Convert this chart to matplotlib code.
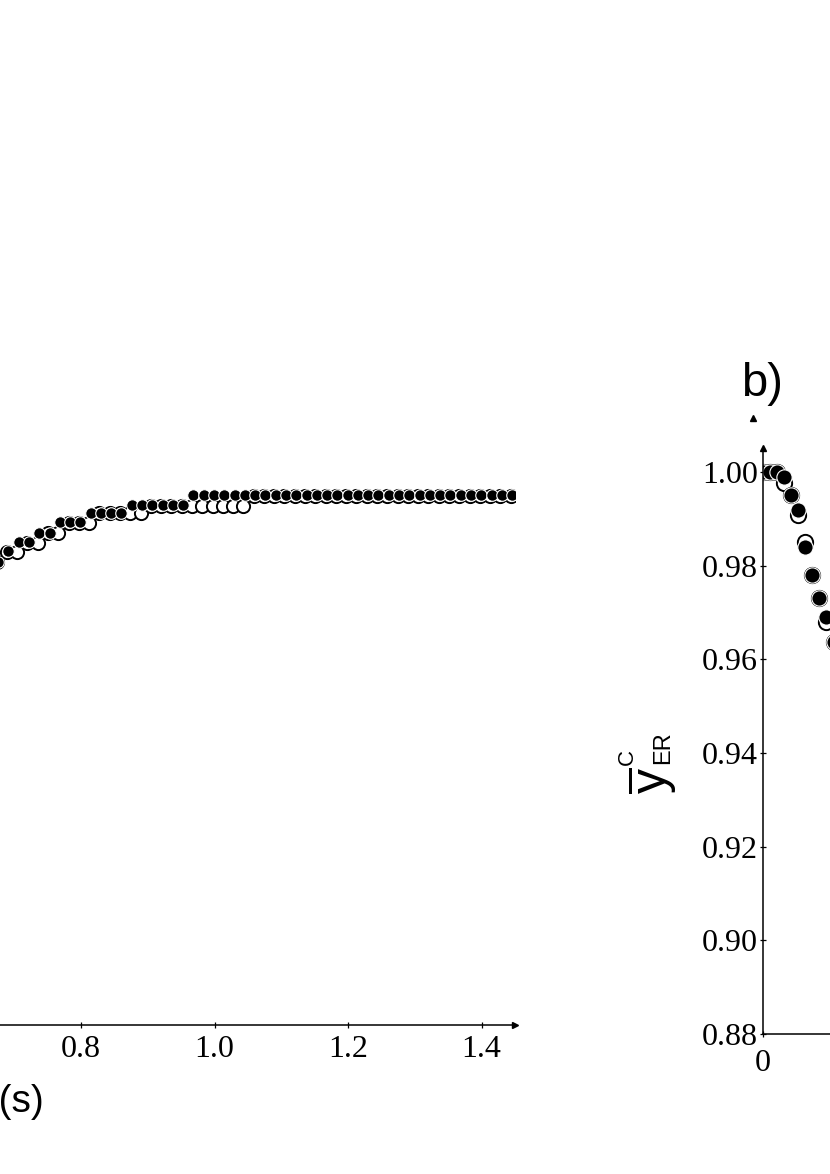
import matplotlib
matplotlib.use('Agg')
import matplotlib.pyplot as plt
from matplotlib.lines import Line2D
from matplotlib.transforms import offset_copy

plt.rcParams['font.family'] = ['Liberation Serif', 'DejaVu Serif']
plt.rcParams['mathtext.fontset'] = 'custom'
plt.rcParams['mathtext.rm'] = 'Liberation Sans'

# ---- panel a: time (s) vs response, two runs (filled / open) ----
t_a = [0.6736, 0.6890, 0.7044, 0.7198, 0.7352, 0.7506, 0.7660, 0.7814, 0.7968,
       0.8122, 0.8276, 0.8430, 0.8584, 0.8738, 0.8892, 0.9046, 0.9200, 0.9354,
       0.9508, 0.9662, 0.9816, 0.9970, 1.0124, 1.0278, 1.0432, 1.0586, 1.0740,
       1.0894, 1.1048, 1.1202, 1.1356, 1.1510, 1.1664, 1.1818, 1.1972, 1.2126,
       1.2280, 1.2434, 1.2588, 1.2742, 1.2896, 1.3050, 1.3204, 1.3358, 1.3512,
       1.3666, 1.3820, 1.3974, 1.4128, 1.4282, 1.4436]
filled_a = [0.9788, 0.9810, 0.9830, 0.9830, 0.9850, 0.9850, 0.9872, 0.9872, 0.9872,
            0.9893, 0.9893, 0.9893, 0.9893, 0.9909, 0.9909, 0.9909, 0.9909, 0.9909,
            0.9909, 0.9930, 0.9930, 0.9930, 0.9930, 0.9930, 0.9930, 0.9930, 0.9930,
            0.9930, 0.9930, 0.9930, 0.9930, 0.9930, 0.9930, 0.9930, 0.9930, 0.9930,
            0.9930, 0.9930, 0.9930, 0.9930, 0.9930, 0.9930, 0.9930, 0.9930, 0.9930,
            0.9930, 0.9930, 0.9930, 0.9930, 0.9930, 0.9930]
open_a = [0.9788, 0.9810, 0.9810, 0.9830, 0.9830, 0.9850, 0.9850, 0.9872, 0.9872,
          0.9872, 0.9893, 0.9893, 0.9893, 0.9893, 0.9893, 0.9909, 0.9909, 0.9909,
          0.9909, 0.9909, 0.9909, 0.9909, 0.9909, 0.9909, 0.9909, 0.9930, 0.9930,
          0.9930, 0.9930, 0.9930, 0.9930, 0.9930, 0.9930, 0.9930, 0.9930, 0.9930,
          0.9930, 0.9930, 0.9930, 0.9930, 0.9930, 0.9930, 0.9930, 0.9930, 0.9930,
          0.9930, 0.9930, 0.9930, 0.9930, 0.9930, 0.9930]
xticks_a = [0.0, 0.2, 0.4, 0.6, 0.8, 1.0, 1.2, 1.4]
xlabels_a = ['0', '0.2', '0.4', '0.6', '0.8', '1.0', '1.2', '1.4']

# ---- panel b ----
x_b = [0.00, 0.01, 0.02, 0.03, 0.04, 0.05, 0.06, 0.07, 0.08, 0.09, 0.10]
filled_b = [1.0000, 1.0000, 1.0000, 0.9990, 0.9951, 0.9919, 0.9840, 0.9780, 0.9731, 0.9690, 0.9637]
open_b = [1.0000, 1.0000, 1.0000, 0.9977, 0.9951, 0.9908, 0.9851, 0.9780, 0.9731, 0.9680, 0.9637]
yticks_b = [0.88, 0.90, 0.92, 0.94, 0.96, 0.98, 1.00]
ylabels_b = ['0.88', '0.90', '0.92', '0.94', '0.96', '0.98', '1.00']
xticks_b = [0.0, 0.5, 1.0]
xlabels_b = ['0', '0.5', '1.0']

W, H = 830, 1174
fig = plt.figure(figsize=(W / 100, H / 100), dpi=100)

ax_a = fig.add_axes([-453 / W, (H - 1025) / H, 967.9 / W, 577 / H])
ax_b = fig.add_axes([762.5 / W, (H - 1034) / H, 710 / W, 586 / H])
ax_a.set_xlim(0, 1.45)
ax_a.set_ylim(0.88, 1.0032)
ax_b.set_xlim(0, 1)
ax_b.set_ylim(0.88, 1.0051)

for ax in (ax_a, ax_b):
    ax.spines['top'].set_visible(False)
    ax.spines['right'].set_visible(False)
    ax.spines['left'].set_linewidth(1.1)
    ax.spines['bottom'].set_linewidth(1.1)
    ax.tick_params(direction='inout', length=5, width=0.9, labelsize=23)

# axis arrows
ax_a.plot(1, 0, '>', color='k', ms=5, transform=ax_a.transAxes, clip_on=False)
ax_b.plot(0, 1, '^', color='k', ms=5, transform=ax_b.transAxes, clip_on=False)

# panel a markers
ax_a.plot(t_a, open_a, 'o', ms=9.5, mfc='white', mec='black', mew=1.4, ls='none')
shift_a = offset_copy(ax_a.transData, fig=fig, x=1.5, y=0.5, units='dots')
ax_a.plot(t_a, filled_a, 'o', ms=8.3, mfc='black', mec='white', mew=0.8, ls='none',
          transform=shift_a)
ax_a.set_xticks(xticks_a)
ax_a.set_xticklabels(xlabels_a)
ax_a.tick_params(axis='x', pad=5)

# panel b markers
ax_b.plot(x_b, open_b, 'o', ms=11, mfc='white', mec='black', mew=1.4, ls='none')
ax_b.plot(x_b, filled_b, 'o', ms=11, mfc='black', mec='white', mew=0.8, ls='none')
ax_b.set_yticks(yticks_b)
ax_b.set_yticklabels(ylabels_b)
ax_b.set_xticks(xticks_b)
ax_b.set_xticklabels(xlabels_b)
ax_b.tick_params(axis='y', pad=1)
ax_b.tick_params(axis='x', pad=8)

# labels
fig.text(44 / W, 1 - 1102 / H, 't (s)', ha='right', va='center', fontsize=28,
         family='Liberation Sans')
fig.text(762 / W, 1 - 384 / H, 'b)', ha='center', va='center', fontsize=34,
         family='Liberation Sans')
fig.add_artist(Line2D([753 / W], [1 - 418 / H], marker='^', ms=4, color='k',
                      transform=fig.transFigure))
fig.text(652 / W, 1 - 780 / H, r'$\overline{\mathrm{y}}$', rotation=90, fontsize=36,
         ha='center', va='center')
fig.text(627 / W, 1 - 757 / H, 'C', rotation=90, fontsize=16, ha='center', va='center',
         family='Liberation Sans')
fig.text(663 / W, 1 - 748 / H, 'ER', rotation=90, fontsize=17, ha='center', va='center',
         family='Liberation Sans')

fig.savefig('out.png', dpi=100)
